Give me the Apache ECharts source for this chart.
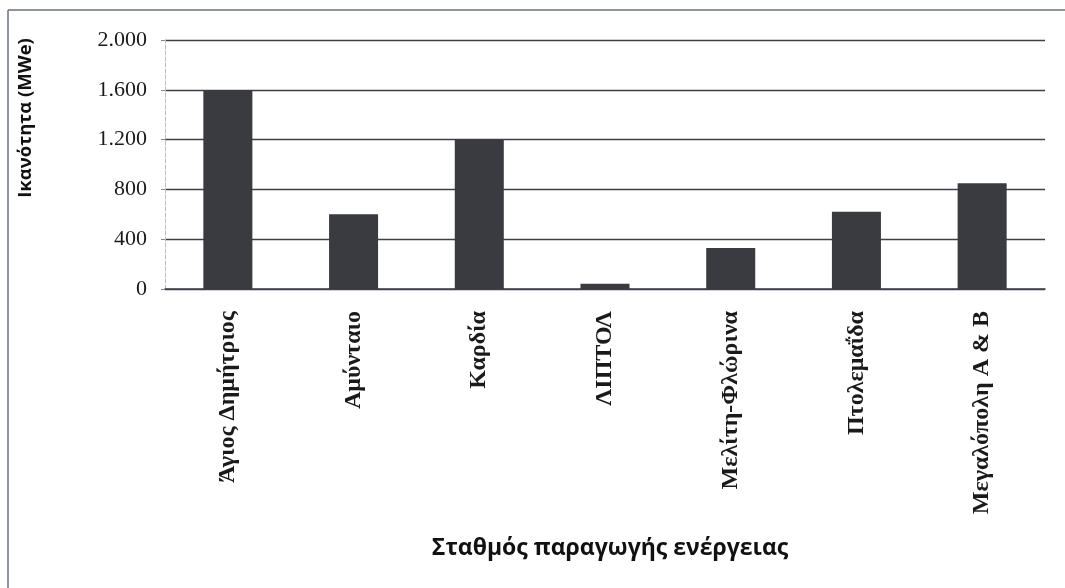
<!DOCTYPE html>
<html>
<head>
<meta charset="utf-8">
<script src="https://cdn.jsdelivr.net/npm/echarts@6/dist/echarts.min.js"></script>
<style>
html,body{margin:0;padding:0;background:#fff;}
#chart{width:1065px;height:588px;}
</style>
</head>
<body>
<div id="chart"></div>
<script>
var categories = ['Άγιος Δημήτριος', 'Αμύνταιο', 'Καρδία', 'ΛΙΠΤΟΛ', 'Μελίτη-Φλώρινα', 'Πτολεμαΐδα', 'Μεγαλόπολη Α & Β'];
var capacity = [1595, 600, 1200, 43, 330, 620, 850];
var yTicks = [0, 400, 800, 1200, 1600, 2000];
var yTitle = 'Ικανότητα (MWe)';
var xTitle = 'Σταθμός παραγωγής ενέργειας';

var chart = echarts.init(document.getElementById('chart'), null, {renderer: 'canvas'});
chart.setOption({
  animation: false,
  backgroundColor: '#ffffff',
  graphic: [
    {type: 'line', shape: {x1: 8, y1: 10, x2: 1065, y2: 10}, style: {stroke: '#6a7280', lineWidth: 1.5}},
    {type: 'line', shape: {x1: 8, y1: 10, x2: 8, y2: 588}, style: {stroke: '#6a7280', lineWidth: 1.5}},
    {type: 'text', x: 26, y: 118, rotation: Math.PI / 2,
      style: {text: yTitle, fontFamily: 'Open Sans', fontWeight: 'bold', fontSize: 18.5, fill: '#111',
        textAlign: 'center', textVerticalAlign: 'middle'}}
  ],
  grid: {left: 165, right: 20, top: 40, bottom: 299, containLabel: false},
  xAxis: {
    type: 'category',
    data: categories,
    name: xTitle,
    nameLocation: 'middle',
    nameGap: 248,
    nameTextStyle: {fontFamily: 'Open Sans', fontWeight: 'bold', fontSize: 23, color: '#111', padding: [0, 0, 0, 10]},
    axisLine: {show: true, lineStyle: {color: '#3c4048', width: 1.5}},
    axisTick: {show: false},
    axisLabel: {rotate: 90, margin: 22, fontFamily: 'Liberation Serif', fontWeight: 'bold', fontSize: 24, color: '#1a1a1a'}
  },
  yAxis: {
    type: 'value',
    min: 0, max: 2000, interval: 400,
    axisLine: {show: true, lineStyle: {color: '#b8bcc4', width: 1, type: 'dashed'}},
    axisTick: {show: true, length: 4, lineStyle: {color: '#888'}},
    axisLabel: {
      margin: 18, fontFamily: 'Liberation Serif', fontSize: 22, color: '#1a1a1a',
      formatter: function (v) { return v.toLocaleString('de-DE'); }
    },
    splitLine: {show: true, lineStyle: {color: '#3c4048', width: 1.4}}
  },
  series: [{
    type: 'bar',
    data: capacity,
    barWidth: '39%',
    itemStyle: {color: '#3a3b40'}
  }]
});
</script>
</body>
</html>
